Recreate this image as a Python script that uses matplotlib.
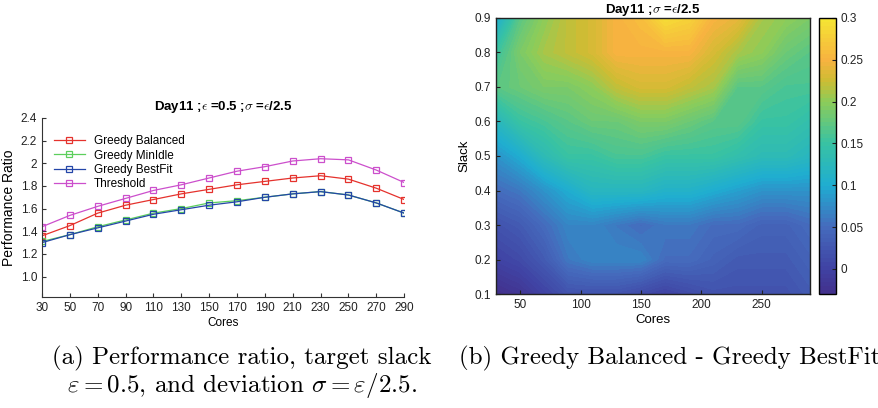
import matplotlib
matplotlib.use('Agg')
import matplotlib.pyplot as plt
import numpy as np
from matplotlib.colors import LinearSegmentedColormap

plt.rcParams['font.family'] = ['Liberation Sans', 'DejaVu Sans']
plt.rcParams['mathtext.fontset'] = 'cm'

# left panel data
cores = [30, 50, 70, 90, 110, 130, 150, 170, 190, 210, 230, 250, 270, 290]
greedy_balanced = [1.36, 1.45, 1.56, 1.63, 1.68, 1.73, 1.77, 1.81, 1.84, 1.87, 1.89, 1.86, 1.78, 1.68]
greedy_minidle = [1.31, 1.37, 1.44, 1.50, 1.56, 1.60, 1.65, 1.67, 1.70, 1.73, 1.75, 1.72, 1.65, 1.56]
greedy_bestfit = [1.30, 1.37, 1.43, 1.49, 1.55, 1.59, 1.63, 1.66, 1.70, 1.73, 1.75, 1.72, 1.65, 1.56]
threshold = [1.44, 1.54, 1.62, 1.69, 1.76, 1.81, 1.87, 1.93, 1.97, 2.02, 2.04, 2.03, 1.94, 1.83]
y_ticks = [1.0, 1.2, 1.4, 1.6, 1.8, 2.0, 2.2, 2.4]
y_labels = ['1.0', '1.2', '1.4', '1.6', '1.8', '2', '2.2', '2.4']

# right panel data: difference Greedy Balanced - Greedy BestFit
slack = [0.1, 0.2, 0.3, 0.4, 0.5, 0.6, 0.7, 0.8, 0.9]
diff = [
    [-0.03, -0.02, 0.00, 0.02, 0.02, 0.02, 0.01, 0.00, 0.01, 0.02, 0.02, 0.02, 0.02, 0.03],
    [0.00, 0.01, 0.03, 0.06, 0.07, 0.07, 0.07, 0.05, 0.05, 0.04, 0.03, 0.03, 0.03, 0.04],
    [0.02, 0.03, 0.05, 0.07, 0.07, 0.06, 0.05, 0.06, 0.06, 0.05, 0.05, 0.04, 0.04, 0.05],
    [0.05, 0.06, 0.08, 0.10, 0.12, 0.12, 0.12, 0.11, 0.11, 0.10, 0.09, 0.08, 0.08, 0.08],
    [0.08, 0.10, 0.13, 0.15, 0.15, 0.16, 0.16, 0.15, 0.15, 0.15, 0.14, 0.13, 0.13, 0.12],
    [0.12, 0.15, 0.16, 0.17, 0.18, 0.18, 0.19, 0.19, 0.18, 0.17, 0.17, 0.15, 0.15, 0.14],
    [0.17, 0.18, 0.19, 0.19, 0.20, 0.22, 0.23, 0.23, 0.22, 0.21, 0.17, 0.17, 0.16, 0.16],
    [0.15, 0.19, 0.21, 0.22, 0.23, 0.25, 0.25, 0.25, 0.25, 0.23, 0.21, 0.20, 0.18, 0.17],
    [0.10, 0.17, 0.20, 0.22, 0.23, 0.25, 0.26, 0.29, 0.28, 0.25, 0.24, 0.21, 0.20, 0.19],
]

# parula-like map, a bit washed out as in the printed figure
zmin, zmax = -0.03, 0.3
anchors = [
    (-0.03, (0.26, 0.19, 0.55)),
    (0.00, (0.25, 0.26, 0.64)),
    (0.05, (0.27, 0.42, 0.74)),
    (0.10, (0.12, 0.68, 0.82)),
    (0.15, (0.22, 0.76, 0.64)),
    (0.20, (0.55, 0.80, 0.35)),
    (0.225, (0.80, 0.74, 0.20)),
    (0.25, (0.97, 0.70, 0.25)),
    (0.30, (0.96, 0.90, 0.20)),
]
parula = LinearSegmentedColormap.from_list(
    'parula', [((v - zmin) / (zmax - zmin), c) for v, c in anchors])

fig = plt.figure(figsize=(8.79, 4.08), dpi=100)

# ---- (a) performance ratio
ax = fig.add_axes([0.0478, 0.272, 0.412, 0.439])
series = [
    ('Greedy Balanced', greedy_balanced, '#e5322d'),
    ('Greedy MinIdle', greedy_minidle, '#5ccf5c'),
    ('Greedy BestFit', greedy_bestfit, '#2446a8'),
    ('Threshold', threshold, '#cc4fcc'),
]
for name, vals, c in series:
    ax.plot(cores, vals, '-s', color=c, lw=0.9, ms=5, mfc='none', mew=0.9, label=name)
ax.set_xlim(30, 290)
ax.set_ylim(0.82, 2.4)
ax.set_xticks(cores)
ax.set_yticks(y_ticks)
ax.set_yticklabels(y_labels)
ax.spines['top'].set_visible(False)
ax.spines['right'].set_visible(False)
for s in ['left', 'bottom']:
    ax.spines[s].set_color('#333333')
    ax.spines[s].set_linewidth(0.8)
ax.tick_params(direction='in', labelsize=8.5, length=3, colors='#333333', labelcolor='#222222')
ax.set_xlabel('Cores', fontsize=8.5, labelpad=2)
ax.set_ylabel('Performance Ratio', fontsize=10, labelpad=3)
ax.set_title(r'Day11 ;$\epsilon$ =0.5 ;$\sigma$ =$\epsilon$/2.5', fontsize=9.5, fontweight='bold', pad=6)
ax.legend(loc='upper left', bbox_to_anchor=(0.02, 0.93), frameon=False, fontsize=8.5,
          handlelength=2.6, labelspacing=0.2, borderaxespad=0)

# ---- (b) heat map
ax2 = fig.add_axes([0.5643, 0.2794, 0.3572, 0.6765])
levels = np.linspace(zmin, zmax, 70)
cf = ax2.contourf(cores, slack, np.array(diff), levels=levels, cmap=parula, vmin=zmin, vmax=zmax)
ax2.set_xlim(30, 290)
ax2.set_ylim(0.1, 0.9)
ax2.set_xticks([50, 100, 150, 200, 250])
ax2.set_yticks(slack)
ax2.tick_params(direction='in', labelsize=8.5, length=3, colors='#222222', top=False, right=False)
for s in ax2.spines.values():
    s.set_linewidth(1.0)
    s.set_color('#222222')
ax2.set_xlabel('Cores', fontsize=9.5, labelpad=2)
ax2.set_ylabel('Slack', fontsize=9.5, labelpad=3)
ax2.set_title(r'Day11 ;$\sigma$ =$\epsilon$/2.5', fontsize=9.5, fontweight='bold', pad=3)

cax = fig.add_axes([0.9317, 0.2794, 0.0193, 0.6765])
cb = fig.colorbar(cf, cax=cax, ticks=[0, 0.05, 0.1, 0.15, 0.2, 0.25, 0.3])
cb.ax.set_yticklabels(['0', '0.05', '0.1', '0.15', '0.2', '0.25', '0.3'])
cb.ax.tick_params(direction='in', labelsize=8.5, length=3, colors='#222222')
cb.outline.set_linewidth(1.0)

# ---- captions
cap = dict(fontsize=18, family='cmr10', ha='center', va='center')
fig.text(0.275, 0.122, '(a) Performance ratio, target slack', **cap)
fig.text(0.275, 0.055, r'$\varepsilon = 0.5$, and deviation $\sigma = \varepsilon/2.5$.', **cap)
fig.text(0.762, 0.122, '(b) Greedy Balanced - Greedy BestFit', **cap)

fig.savefig('out.png', dpi=100)
